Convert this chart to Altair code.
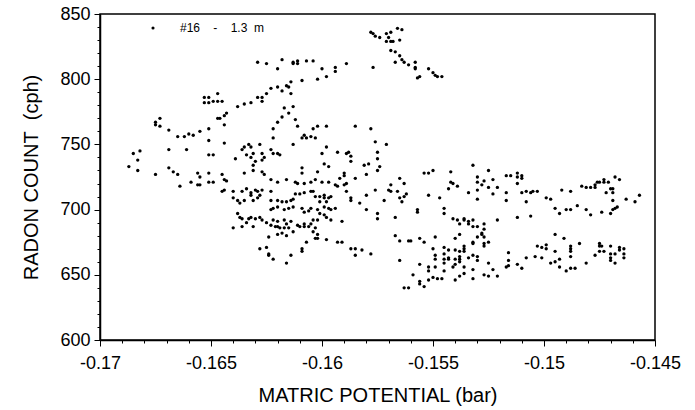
import altair as alt
import pandas as pd

LEGEND_LABEL = "#16\u00a0\u00a0\u00a0\u00a0-\u00a0\u00a0\u00a0\u00a01.3\u00a0\u00a0m"

# [matric potential (bar), radon count (cph)], grouped by region
upper_left_arc = [
    [-0.1653, 786], [-0.1653, 782], [-0.1651, 786], [-0.1651, 782], [-0.1649, 783],
    [-0.1647, 783], [-0.1645, 783], [-0.1647, 789], [-0.1638, 779], [-0.1643, 774],
    [-0.1644, 772], [-0.1646, 770], [-0.1647, 770], [-0.1673, 770],
    [-0.1629, 813], [-0.1625, 812], [-0.1620, 808], [-0.1618, 815], [-0.1613, 813],
    [-0.1613, 812], [-0.1611, 812], [-0.1611, 814], [-0.1607, 814], [-0.1604, 814],
    [-0.1600, 808], [-0.1594, 809], [-0.1594, 806], [-0.1589, 812], [-0.1598, 802],
    [-0.1602, 800], [-0.1609, 799], [-0.1614, 798], [-0.1615, 794], [-0.1616, 795],
    [-0.1618, 791], [-0.1620, 794], [-0.1623, 793], [-0.1625, 789], [-0.1627, 786],
    [-0.1627, 783], [-0.1629, 786], [-0.1632, 782], [-0.1635, 781], [-0.1614, 789],
    [-0.1617, 778], [-0.1613, 779], [-0.1615, 774], [-0.1618, 771],
]

top_right_cluster = [
    [-0.1578, 836], [-0.1577, 835], [-0.1576, 833], [-0.1574, 832], [-0.1571, 835],
    [-0.1569, 836], [-0.1570, 832], [-0.1569, 829], [-0.1568, 829], [-0.1571, 829],
    [-0.1565, 830], [-0.1566, 839], [-0.1564, 838], [-0.1569, 822], [-0.1567, 821],
    [-0.1565, 818], [-0.1564, 815], [-0.1563, 813], [-0.1561, 811], [-0.1567, 813],
    [-0.1558, 813], [-0.1558, 809], [-0.1558, 808], [-0.1557, 801], [-0.1556, 802],
    [-0.1552, 808], [-0.1550, 805], [-0.1549, 803], [-0.1548, 802], [-0.1546, 802],
    [-0.1577, 809],
]

left_cluster = [
    [-0.1685, 743], [-0.1682, 745], [-0.1683, 738], [-0.1687, 733], [-0.1683, 730],
    [-0.1675, 767], [-0.1675, 765], [-0.1673, 764], [-0.1669, 761], [-0.1665, 756],
    [-0.1662, 756], [-0.1660, 758], [-0.1658, 757], [-0.1655, 760], [-0.1651, 762],
    [-0.1651, 753], [-0.1644, 765], [-0.1644, 751], [-0.1669, 746], [-0.1661, 746],
    [-0.1651, 742], [-0.1649, 742],
    [-0.1675, 727], [-0.1669, 732], [-0.1667, 729], [-0.1665, 727], [-0.1664, 718],
    [-0.1659, 721], [-0.1656, 728], [-0.1655, 725], [-0.1655, 719], [-0.1656, 719],
    [-0.1651, 728], [-0.1651, 721], [-0.1649, 721], [-0.1645, 727], [-0.1644, 723],
    [-0.1643, 722], [-0.1644, 715], [-0.1645, 714], [-0.1640, 714], [-0.1640, 709],
    [-0.1639, 739], [-0.1635, 728], [-0.1636, 714], [-0.1634, 716],
    [-0.1635, 748], [-0.1633, 750], [-0.1632, 748], [-0.1631, 743], [-0.1634, 742],
    [-0.1632, 740], [-0.1636, 746], [-0.1628, 750], [-0.1627, 743], [-0.1627, 738],
    [-0.1626, 740], [-0.1631, 734], [-0.1631, 730], [-0.1630, 737], [-0.1627, 729],
    [-0.1626, 727], [-0.1632, 713], [-0.1632, 711], [-0.1630, 715], [-0.1629, 714],
    [-0.1627, 715], [-0.1628, 711], [-0.1629, 709], [-0.1631, 707], [-0.1638, 707],
    [-0.1638, 697], [-0.1637, 694], [-0.1636, 693], [-0.1633, 693], [-0.1632, 694],
    [-0.1630, 693], [-0.1628, 694], [-0.1627, 692], [-0.1625, 690], [-0.1636, 687],
    [-0.1640, 686], [-0.1634, 690], [-0.1631, 687], [-0.1637, 705], [-0.1635, 707],
]

centre_cluster = [
    [-0.1622, 762], [-0.1620, 767], [-0.1612, 769], [-0.1611, 764], [-0.1608, 757],
    [-0.1607, 755], [-0.1609, 755], [-0.1605, 756], [-0.1603, 755], [-0.1604, 762],
    [-0.1602, 764], [-0.1598, 764], [-0.1585, 764], [-0.1578, 762], [-0.1613, 750],
    [-0.1622, 755], [-0.1623, 746], [-0.1620, 743], [-0.1622, 743], [-0.1619, 742],
    [-0.1600, 743], [-0.1598, 748], [-0.1593, 744], [-0.1589, 743], [-0.1587, 741],
    [-0.1587, 737], [-0.1588, 744], [-0.1581, 734], [-0.1579, 735], [-0.1575, 739],
    [-0.1575, 744], [-0.1576, 752], [-0.1571, 750], [-0.1574, 733], [-0.1599, 735],
    [-0.1597, 733], [-0.1609, 732], [-0.1609, 728], [-0.1602, 729], [-0.1580, 727],
    [-0.1575, 730], [-0.1590, 728], [-0.1590, 726], [-0.1623, 723], [-0.1620, 721],
    [-0.1616, 723], [-0.1612, 721], [-0.1611, 720], [-0.1608, 720], [-0.1605, 721],
    [-0.1603, 723], [-0.1600, 721], [-0.1597, 721], [-0.1592, 724], [-0.1594, 719],
    [-0.1593, 718], [-0.1590, 719], [-0.1589, 720], [-0.1585, 724], [-0.1576, 715],
    [-0.1580, 711], [-0.1589, 714], [-0.1587, 707], [-0.1587, 709], [-0.1583, 705],
    [-0.1580, 700], [-0.1575, 697], [-0.1575, 693], [-0.1567, 694], [-0.1572, 707],
    [-0.1570, 715], [-0.1569, 714], [-0.1566, 714], [-0.1569, 719], [-0.1565, 724],
    [-0.1563, 720], [-0.1562, 712], [-0.1565, 709], [-0.1564, 706], [-0.1563, 710],
    [-0.1557, 698], [-0.1557, 700], [-0.1554, 728], [-0.1552, 728], [-0.1550, 730],
    [-0.1552, 711], [-0.1547, 709], [-0.1545, 701], [-0.1545, 697], [-0.1542, 729],
    [-0.1542, 721], [-0.1541, 720], [-0.1543, 716], [-0.1539, 718], [-0.1541, 693],
    [-0.1539, 692], [-0.1536, 693], [-0.1623, 714], [-0.1623, 707], [-0.1620, 707],
    [-0.1618, 706], [-0.1616, 706], [-0.1614, 707], [-0.1613, 708], [-0.1612, 712],
    [-0.1610, 712], [-0.1608, 713], [-0.1605, 714], [-0.1604, 714], [-0.1603, 710],
    [-0.1601, 710], [-0.1599, 711], [-0.1599, 709], [-0.1597, 709], [-0.1596, 710],
    [-0.1601, 706], [-0.1598, 706], [-0.1599, 702], [-0.1597, 701], [-0.1596, 700],
    [-0.1594, 701], [-0.1623, 700], [-0.1622, 701], [-0.1620, 702], [-0.1617, 700],
    [-0.1615, 701], [-0.1613, 702], [-0.1609, 701], [-0.1608, 698], [-0.1606, 699],
    [-0.1605, 701], [-0.1602, 700], [-0.1601, 697], [-0.1599, 696], [-0.1598, 694],
    [-0.1596, 692], [-0.1591, 691], [-0.1602, 692], [-0.1604, 692], [-0.1605, 689],
    [-0.1608, 689], [-0.1610, 687], [-0.1611, 688], [-0.1614, 691], [-0.1616, 689],
    [-0.1617, 692], [-0.1620, 691], [-0.1622, 692], [-0.1623, 688], [-0.1621, 687],
    [-0.1619, 686], [-0.1620, 687], [-0.1608, 687], [-0.1606, 687], [-0.1603, 686],
    [-0.1617, 686], [-0.1615, 686],
]

right_band = [
    [-0.1532, 734], [-0.1525, 730], [-0.1530, 725], [-0.1530, 721], [-0.1527, 722],
    [-0.1523, 723], [-0.1528, 719], [-0.1525, 717], [-0.1521, 717], [-0.1534, 713],
    [-0.1530, 715], [-0.1523, 712], [-0.1530, 708], [-0.1517, 726], [-0.1515, 726],
    [-0.1512, 728], [-0.1512, 725], [-0.1510, 726], [-0.1510, 724], [-0.1512, 720],
    [-0.1517, 713], [-0.1517, 707], [-0.1510, 713], [-0.1508, 714], [-0.1506, 713],
    [-0.1505, 714], [-0.1503, 714], [-0.1508, 706], [-0.1499, 709], [-0.1497, 708],
    [-0.1495, 701], [-0.1493, 697], [-0.1490, 700], [-0.1488, 700], [-0.1492, 715],
    [-0.1488, 714], [-0.1485, 703], [-0.1483, 718], [-0.1481, 717], [-0.1479, 717],
    [-0.1477, 719], [-0.1477, 717], [-0.1476, 721], [-0.1475, 721], [-0.1473, 723],
    [-0.1473, 721], [-0.1471, 721], [-0.1481, 700], [-0.1479, 696], [-0.1474, 698],
    [-0.1470, 697], [-0.1469, 700], [-0.1468, 701], [-0.1467, 702], [-0.1472, 713],
    [-0.1470, 716], [-0.1469, 716], [-0.1469, 713], [-0.1469, 707], [-0.1468, 725],
    [-0.1466, 723], [-0.1463, 708], [-0.1459, 706], [-0.1457, 711], [-0.1536, 692],
    [-0.1534, 691], [-0.1532, 692], [-0.1534, 689], [-0.1532, 687], [-0.1530, 687],
    [-0.1527, 689], [-0.1527, 685], [-0.1521, 692], [-0.1512, 694], [-0.1506, 695],
    [-0.1538, 689],
]

lower_left_tail = [
    [-0.1624, 679], [-0.1620, 681], [-0.1618, 682], [-0.1616, 680], [-0.1613, 683],
    [-0.1607, 675], [-0.1604, 683], [-0.1602, 681], [-0.1602, 678], [-0.1603, 678],
    [-0.1598, 677], [-0.1593, 675], [-0.1591, 675], [-0.1587, 670], [-0.1585, 670],
    [-0.1585, 665], [-0.1582, 669], [-0.1578, 666], [-0.1628, 670], [-0.1625, 671],
    [-0.1624, 666], [-0.1624, 665], [-0.1622, 662], [-0.1616, 659], [-0.1614, 665],
    [-0.1609, 670], [-0.1609, 668], [-0.1567, 680], [-0.1565, 676], [-0.1561, 676],
    [-0.1560, 676], [-0.1565, 661], [-0.1559, 650], [-0.1563, 640], [-0.1561, 640],
]

lower_right_cluster = [
    [-0.1556, 678], [-0.1554, 675], [-0.1549, 679], [-0.1550, 670], [-0.1552, 656],
    [-0.1552, 653], [-0.1549, 656], [-0.1556, 658], [-0.1545, 671], [-0.1543, 669],
    [-0.1549, 665], [-0.1549, 662], [-0.1545, 666], [-0.1545, 662], [-0.1543, 663],
    [-0.1543, 662], [-0.1545, 659], [-0.1545, 653], [-0.1541, 656], [-0.1540, 678],
    [-0.1538, 681], [-0.1540, 669], [-0.1538, 668], [-0.1536, 670], [-0.1536, 672],
    [-0.1536, 668], [-0.1538, 664], [-0.1538, 662], [-0.1540, 662], [-0.1538, 660],
    [-0.1540, 658], [-0.1536, 656], [-0.1532, 654], [-0.1530, 664], [-0.1532, 665],
    [-0.1534, 663], [-0.1530, 661], [-0.1532, 674], [-0.1532, 675], [-0.1530, 679],
    [-0.1528, 681], [-0.1527, 679], [-0.1527, 674], [-0.1527, 672], [-0.1525, 675],
    [-0.1528, 682], [-0.1556, 645], [-0.1554, 641], [-0.1552, 646], [-0.1550, 648],
    [-0.1548, 647], [-0.1546, 647], [-0.1556, 643], [-0.1540, 646], [-0.1538, 649],
    [-0.1536, 651], [-0.1532, 647], [-0.1527, 650], [-0.1525, 649], [-0.1521, 649],
    [-0.1525, 659], [-0.1523, 654], [-0.1517, 656], [-0.1516, 657], [-0.1516, 661],
    [-0.1516, 667], [-0.1512, 658], [-0.1510, 655], [-0.1508, 663], [-0.1504, 664],
    [-0.1501, 663], [-0.1503, 672], [-0.1501, 671], [-0.1499, 673], [-0.1499, 670],
    [-0.1495, 668], [-0.1495, 681], [-0.1491, 678], [-0.1497, 659], [-0.1495, 660],
    [-0.1493, 662], [-0.1493, 656], [-0.1490, 653], [-0.1488, 655], [-0.1486, 655],
    [-0.1488, 672], [-0.1488, 670], [-0.1488, 668], [-0.1488, 664], [-0.1484, 674],
    [-0.1481, 659], [-0.1477, 665], [-0.1475, 668], [-0.1475, 674], [-0.1474, 672],
    [-0.1475, 672], [-0.1473, 668], [-0.1470, 672], [-0.1470, 666], [-0.1470, 663],
    [-0.1468, 666], [-0.1470, 661], [-0.1468, 659], [-0.1466, 671], [-0.1466, 669],
    [-0.1464, 670], [-0.1464, 666], [-0.1464, 663],
]

x_tick_values = [round(-0.170 + i * 0.001, 3) for i in range(26)]
y_tick_values = list(range(600, 851, 10))

groups = [upper_left_arc, top_right_cluster, left_cluster, centre_cluster,
          right_band, lower_left_tail, lower_right_cluster]
rows = [{"mp": p[0], "rc": p[1], "series": LEGEND_LABEL} for g in groups for p in g]
df = pd.DataFrame(rows)

FONT = "Liberation Sans"
x_major = "abs(round(datum.value * 1000) % 5) == 0"
y_major = "datum.value % 50 == 0"

chart = alt.Chart(df).mark_circle(size=11, opacity=1).encode(
    x=alt.X(
        "mp:Q",
        scale=alt.Scale(domain=[-0.17, -0.145], nice=False, zero=False),
        axis=alt.Axis(
            values=x_tick_values,
            labelExpr=x_major + " ? '-' + format(abs(datum.value), '.3~f') : ''",
            tickSize={"condition": {"test": x_major, "value": 6}, "value": 3},
            title="MATRIC POTENTIAL (bar)",
            labelOverlap=False, labelFlush=False, grid=False,
            labelPadding=8, titlePadding=13,
        ),
    ),
    y=alt.Y(
        "rc:Q",
        scale=alt.Scale(domain=[600, 850], nice=False, zero=False),
        axis=alt.Axis(
            values=y_tick_values,
            labelExpr=y_major + " ? datum.label : ''",
            tickSize={"condition": {"test": y_major, "value": 6}, "value": 3},
            title="RADON COUNT\u00a0\u00a0(cph)",
            labelOverlap=False, grid=False,
            labelPadding=4, titlePadding=18,
        ),
    ),
    color=alt.Color(
        "series:N",
        scale=alt.Scale(range=["black"]),
        legend=alt.Legend(
            title=None, orient="none", legendX=47, legendY=8,
            symbolType="circle", symbolSize=10, symbolFillColor="black",
            symbolStrokeWidth=0, labelFont=FONT, labelFontSize=12,
            labelColor="black", labelOffset=21, padding=0,
        ),
    ),
).properties(
    width=555,
    height=326,
    autosize=alt.AutoSizeParams(type="none"),
    padding={"left": 100, "top": 14, "right": 40, "bottom": 70},
    background="white",
).configure_view(
    stroke="black", strokeWidth=1.5,
).configure_axis(
    domainColor="black", domainWidth=1.5, tickColor="black", tickWidth=1,
    labelColor="black", labelFont=FONT, labelFontSize=18,
    titleColor="black", titleFont=FONT, titleFontSize=20, titleFontWeight="normal",
)

chart.save("out.html", embed_options={"renderer": "svg", "actions": False})
